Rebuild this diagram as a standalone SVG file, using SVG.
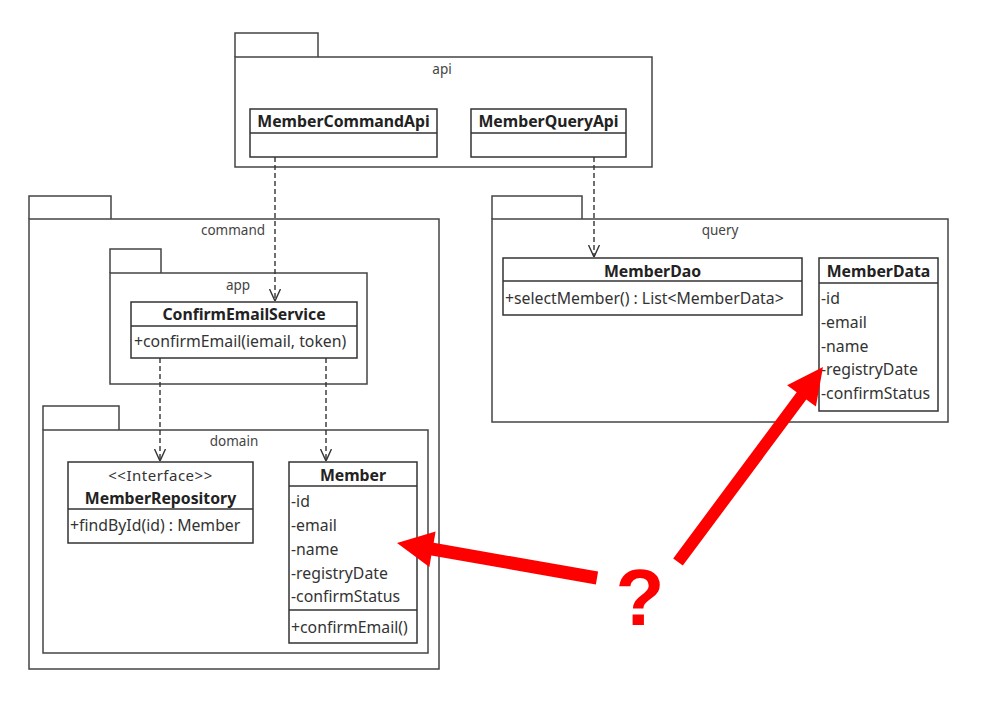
<svg xmlns="http://www.w3.org/2000/svg" width="984" height="710" viewBox="0 0 984 710">
<style>
.pkg{fill:none;stroke:#444;stroke-width:1.5}
.cls{fill:#fff;stroke:#333;stroke-width:1.5}
.div{stroke:#333;stroke-width:1.5}
.plbl{font-family:"Noto Sans","Open Sans",sans-serif;font-size:13.5px;fill:#444;text-anchor:middle}
.name{font-family:"Noto Sans","Open Sans",sans-serif;font-size:15.8px;font-weight:bold;fill:#222;text-anchor:middle}
.mem{font-family:"Noto Sans","Open Sans",sans-serif;font-size:15.8px;fill:#333}
.ster{font-family:"Noto Sans","Open Sans",sans-serif;font-size:15px;fill:#333;text-anchor:middle;letter-spacing:0.5px}
.dep{fill:none;stroke:#333;stroke-width:1.4;stroke-dasharray:5 3}
.red{fill:#ff0000}
</style>
<defs>
<marker id="open" viewBox="0 0 12 12" refX="12" refY="6" markerWidth="12" markerHeight="12" markerUnits="userSpaceOnUse" orient="auto">
<path d="M0,0.5 L12,6 L0,11.5" fill="none" stroke="#333" stroke-width="1.4"/>
</marker>
</defs>
<rect width="984" height="710" fill="#fff"/>

<g id="pkg-api">
<path class="pkg" d="M235,57 V33 H318 V57"/>
<rect class="pkg" x="235" y="57" width="417" height="110"/>
<text class="plbl" x="442" y="74">api</text>
</g>
<g id="pkg-command">
<path class="pkg" d="M29,219 V196 H111 V219"/>
<rect class="pkg" x="29" y="219" width="410" height="450"/>
<text class="plbl" x="233" y="235">command</text>
</g>
<g id="pkg-app">
<path class="pkg" d="M110,273 V249 H161 V273"/>
<rect class="pkg" x="110" y="273" width="257" height="111"/>
<text class="plbl" x="238" y="290">app</text>
</g>
<g id="pkg-domain">
<path class="pkg" d="M43,430 V406 H119 V430"/>
<rect class="pkg" x="43" y="430" width="385" height="223"/>
<text class="plbl" x="234" y="446">domain</text>
</g>
<g id="pkg-query">
<path class="pkg" d="M492,219 V196 H582 V219"/>
<rect class="pkg" x="492" y="219" width="456" height="203"/>
<text class="plbl" x="720" y="235">query</text>
</g>

<g id="MemberCommandApi">
<rect class="cls" x="250" y="109" width="187" height="48"/>
<line class="div" x1="250" y1="133" x2="437" y2="133"/>
<text class="name" x="343.5" y="127">MemberCommandApi</text>
</g>
<g id="MemberQueryApi">
<rect class="cls" x="471" y="109" width="155" height="48"/>
<line class="div" x1="471" y1="133" x2="626" y2="133"/>
<text class="name" x="548.5" y="127">MemberQueryApi</text>
</g>
<g id="ConfirmEmailService">
<rect class="cls" x="131" y="302" width="226" height="56"/>
<line class="div" x1="131" y1="326" x2="357" y2="326"/>
<text class="name" x="244" y="320">ConfirmEmailService</text>
<text class="mem" x="134" y="347">+confirmEmail(iemail, token)</text>
</g>
<g id="MemberRepository">
<rect class="cls" x="68" y="462" width="185" height="81"/>
<line class="div" x1="68" y1="509" x2="253" y2="509"/>
<text class="ster" x="160.5" y="481">&lt;&lt;Interface&gt;&gt;</text>
<text class="name" x="160.5" y="504">MemberRepository</text>
<text class="mem" x="70" y="531">+findById(id) : Member</text>
</g>
<g id="Member">
<rect class="cls" x="289" y="462" width="128" height="181"/>
<line class="div" x1="289" y1="486" x2="417" y2="486"/>
<line class="div" x1="289" y1="610" x2="417" y2="610"/>
<text class="name" x="353" y="481">Member</text>
<text class="mem" x="291" y="507">-id</text>
<text class="mem" x="291" y="531">-email</text>
<text class="mem" x="291" y="555">-name</text>
<text class="mem" x="291" y="579">-registryDate</text>
<text class="mem" x="291" y="602">-confirmStatus</text>
<text class="mem" x="291" y="633">+confirmEmail()</text>
</g>
<g id="MemberDao">
<rect class="cls" x="503" y="258" width="299" height="57"/>
<line class="div" x1="503" y1="281" x2="802" y2="281"/>
<text class="name" x="652.5" y="277">MemberDao</text>
<text class="mem" x="505" y="304">+selectMember() : List&lt;MemberData&gt;</text>
</g>
<g id="MemberData">
<rect class="cls" x="819" y="258" width="119" height="153"/>
<line class="div" x1="819" y1="283" x2="938" y2="283"/>
<text class="name" x="878.5" y="277">MemberData</text>
<text class="mem" x="821" y="304">-id</text>
<text class="mem" x="821" y="328">-email</text>
<text class="mem" x="821" y="352">-name</text>
<text class="mem" x="821" y="375">-registryDate</text>
<text class="mem" x="821" y="399">-confirmStatus</text>
</g>

<g id="connectors">
<line class="dep" x1="275" y1="157" x2="275" y2="301" marker-end="url(#open)"/>
<line class="dep" x1="594" y1="157" x2="594" y2="257" marker-end="url(#open)"/>
<line class="dep" x1="160" y1="358" x2="160" y2="461" marker-end="url(#open)"/>
<line class="dep" x1="326" y1="358" x2="326" y2="461" marker-end="url(#open)"/>
</g>

<g id="annotation">
<polygon class="red" points="598.1,571.6 433.7,542.8 435.6,531.5 397,543 429.4,566.9 431.3,555.6 595.9,584.4"/>
<polygon class="red" points="682.8,565.6 806.3,399.5 815.9,406.6 823,367 787.1,385.2 796.7,392.3 673.2,558.4"/>
<text x="640" y="625" font-family="'Liberation Sans',Arial,sans-serif" font-size="80" font-weight="bold" fill="#ff0000" text-anchor="middle">?</text>
</g>
</svg>
